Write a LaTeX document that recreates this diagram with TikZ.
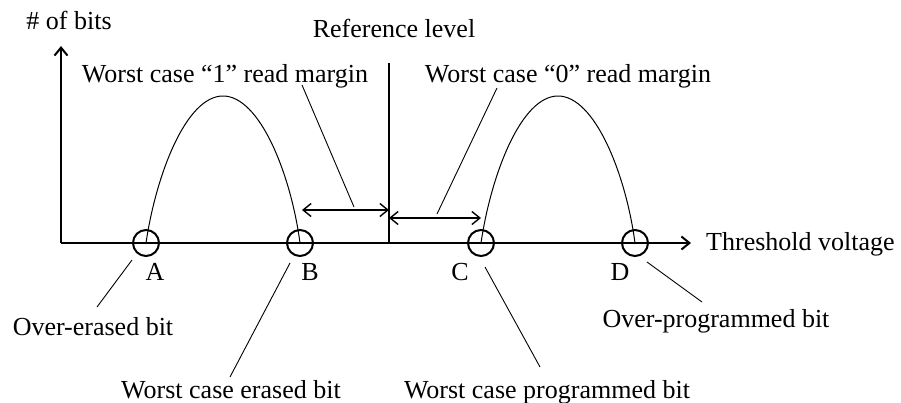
\documentclass[tikz,border=0pt]{standalone}
\usepackage{fontspec}
\setmainfont{Liberation Serif}
\usetikzlibrary{arrows.meta}
\begin{document}
\begin{tikzpicture}[x=1pt,y=-1pt,
  lbl/.style={font=\fontsize{26}{30}\selectfont, inner sep=0pt, anchor=base},
  axis/.style={line width=2pt},
  curve/.style={line width=1pt},
  leader/.style={line width=0.9pt},
  dim/.style={line width=1.4pt, {Straight Barb[length=8pt,width=13pt]}-{Straight Barb[length=8pt,width=13pt]}},
  bitmark/.style={circle, draw, line width=2pt, minimum size=26pt, inner sep=0pt}]
\useasboundingbox (0,0) rectangle (901,402);

% axes
\coordinate (O) at (61,243);
\coordinate (ytip) at (61,46);
\coordinate (xtip) at (691,243);
\draw[axis, -{Straight Barb[length=8pt,width=13pt]}] (O) -- (ytip);
\draw[axis, -{Straight Barb[length=8pt,width=13pt]}] (O) -- (xtip);

% reference level
\coordinate (reftop) at (389,63);
\coordinate (refbot) at (389,243);
\draw[line width=1.6pt] (refbot) -- (reftop);

% bit markers on the threshold axis
\node[bitmark] (A) at (146,243) {};
\node[bitmark] (B) at (300,243) {};
\node[bitmark] (C) at (481,243) {};
\node[bitmark] (D) at (635,243) {};

% distributions
\draw[curve] (A.center) .. controls (156,175) and (186,96) .. (223,96)
  .. controls (260,96) and (291,175) .. (B.center);
\draw[curve] (C.center) .. controls (491,175) and (521,96) .. (558,96)
  .. controls (595,96) and (626,175) .. (D.center);

% read margins
\coordinate (m1) at (389,210);
\coordinate (m0) at (389,218);
\draw[dim] (B.center |- m1) ++(2,0) coordinate (m1a) (m1a) -- (m1);
\draw[dim] (m0) -- (C.center |- m0);

% labels
\node[lbl] (ylab) at (69,29) {\# of bits};
\node[lbl] (reflab) at (394,37) {Reference level};
\node[lbl] (rm1) at (225,82) {Worst case “1” read margin};
\node[lbl] (rm0) at (568,82) {Worst case “0” read margin};
\node[lbl, anchor=base west] (xlab) at (706,250) {Threshold voltage};
\node[lbl] (la) at (155,280) {A};
\node[lbl] (lb) at (310,280) {B};
\node[lbl] (lc) at (460,280) {C};
\node[lbl] (ld) at (620,280) {D};
\node[lbl] (oe) at (93,335) {Over-erased bit};
\node[lbl] (we) at (231,398) {Worst case erased bit};
\node[lbl] (wp) at (547,398) {Worst case programmed bit};
\node[lbl] (op) at (716,327) {Over-programmed bit};

% leader lines
\coordinate (r1a) at (302,85);  \coordinate (r1b) at (354,207);
\coordinate (r0a) at (497,88);  \coordinate (r0b) at (437,214);
\coordinate (oea) at (132,260); \coordinate (oeb) at (97,307);
\coordinate (wea) at (290,263); \coordinate (web) at (230,377);
\coordinate (wpa) at (485,267); \coordinate (wpb) at (540,367);
\coordinate (opa) at (647,262); \coordinate (opb) at (702,302);
\draw[leader] (r1a) -- (r1b);
\draw[leader] (r0a) -- (r0b);
\draw[leader] (oea) -- (oeb);
\draw[leader] (wea) -- (web);
\draw[leader] (wpa) -- (wpb);
\draw[leader] (opa) -- (opb);
\end{tikzpicture}
\end{document}
